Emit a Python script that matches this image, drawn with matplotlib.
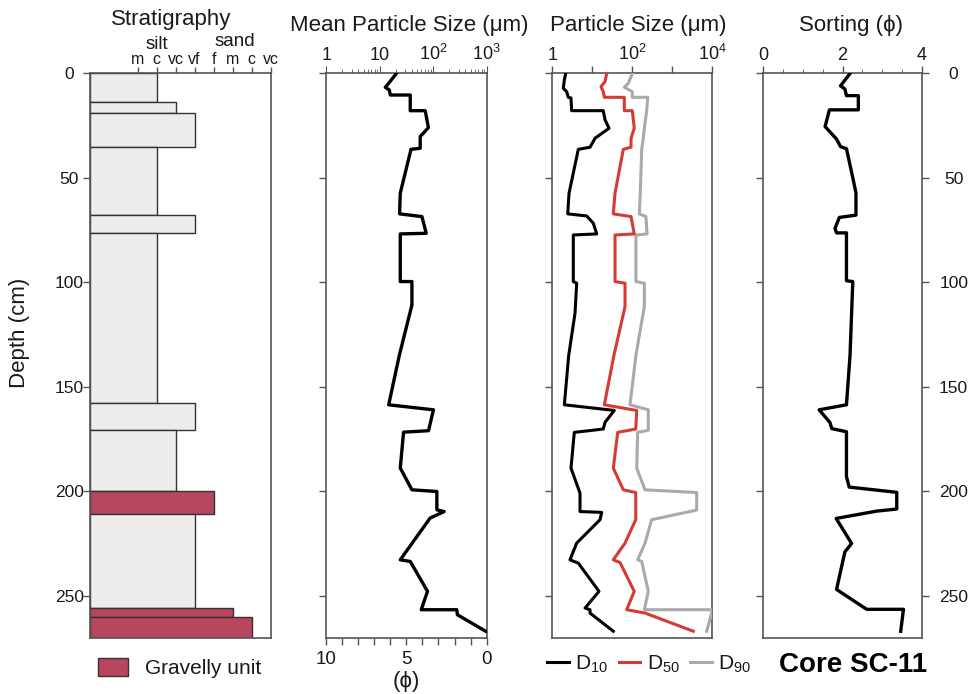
import numpy as np
import matplotlib
matplotlib.use('Agg')
import matplotlib.pyplot as plt
from matplotlib.patches import Patch
from matplotlib.lines import Line2D
from matplotlib.ticker import FixedLocator, LogLocator, NullFormatter, FuncFormatter

plt.rcParams['font.family'] = ['Liberation Sans', 'DejaVu Sans']
plt.rcParams['mathtext.fontset'] = 'custom'
plt.rcParams['mathtext.rm'] = 'Liberation Sans'
plt.rcParams['mathtext.it'] = 'Liberation Sans:italic'

# --- stratigraphic column (depth in cm, grain class index) ---
grain_labels = ['m', 'c', 'vc', 'vf', 'f', 'm', 'c', 'vc']
grain_pos = [1, 2, 3, 4, 5, 6, 7, 8]
strat_top = [0, 13.5, 18.8, 35.3, 67.7, 76.3, 157.8, 170.7, 200, 210.8, 255.9, 260.2]
strat_base = [13.5, 18.8, 35.3, 67.7, 76.3, 157.8, 170.7, 200, 210.8, 255.9, 260.2, 270]
strat_grain = [2, 3, 4, 2, 4, 2, 4, 3, 5, 4, 6, 7]
strat_gravel = [False, False, False, False, False, False, False, False, True, False, True, True]

# --- mean particle size (um) ---
mean_depth = [0, 4.7, 6.6, 7.9, 10.3, 10.3, 17.8, 17.8, 25.9, 30.2, 35.8, 36.3, 57.3, 67.2,
              68.5, 76.5, 76.8, 99.6, 99.6, 110.8, 135, 158.6, 161, 171, 171.7, 188.9, 199.3,
              200.1, 208.9, 209.7, 212.8, 232.8, 233.6, 247.9, 256.7, 256.7, 259.1, 267]
mean_um = [20.4, 14.7, 12.7, 15.1, 15.8, 37.2, 37.2, 70.8, 81.3, 57.1, 57.1, 38.4, 24.2, 23.5,
           61.5, 74, 24.2, 24.2, 40, 40, 23.2, 14.7, 101, 81.7, 27.9, 24.2, 40,
           117, 117, 160, 87.7, 24.2, 37.2, 78.2, 59.7, 276, 283, 955]

# --- percentiles (um) ---
d10_depth = [0, 3.1, 7.1, 8.7, 11.4, 11.7, 17.8, 17.8, 22.2, 26.2, 31, 35.3, 36.3, 57.3, 67.2,
             68.2, 71.7, 76.8, 77.3, 99.6, 100.4, 114.7, 135, 158.6, 161.3, 167, 170.2, 171.8,
             188.9, 200.9, 209.7, 210.1, 213.6, 224.8, 232.8, 234.4, 247.9, 255.9, 256.7, 258.3, 267]
d10_um = [2.16, 2.0, 1.88, 2.29, 2.51, 2.93, 3.05, 18.8, 20.8, 26.2, 11.7, 8.77, 4.47, 2.62, 2.43,
          7.24, 10.6, 12.9, 3.35, 3.35, 4.07, 3.70, 2.57, 2.0, 35.5, 20.8, 18.8, 3.55,
          2.93, 4.93, 4.93, 17.2, 15.6, 4.07, 2.77, 4.47, 14.7, 6.58, 8.77, 8.77, 33.5]

d50_depth = [0, 3.9, 6.3, 8.7, 11.4, 11.4, 17.8, 17.8, 26.2, 31, 35.3, 36.3, 57.3, 67.2, 68.5,
             76.8, 77.3, 99.6, 100.4, 111.6, 135, 158.6, 161.3, 170.2, 171.8, 188.9, 199.3,
             200.6, 213.6, 224.8, 232.8, 234.1, 247.9, 256.7, 258.3, 267]
d50_um = [22.9, 20.8, 16.5, 18.8, 20.0, 63.1, 63.1, 100, 112, 92.9, 92.9, 59.6, 37.0, 33.5, 92.9,
          112, 37.0, 37.0, 65.8, 65.8, 34.7, 20.0, 129, 122, 43.2, 33.5, 59.6,
          122, 122, 65.8, 33.5, 49.3, 112, 72.4, 208, 3350]

d90_depth = [0, 4.7, 6.6, 8.7, 11.4, 11.4, 17.8, 21.4, 26.2, 31, 36.3, 57.3, 67.2, 68.5, 76.8,
             77.3, 99.6, 100.4, 111.6, 135, 158.6, 161, 170.8, 171.8, 188.9, 199.3, 200.6, 209,
             213.6, 224.8, 232.8, 233.6, 247.9, 256.7, 256.7, 258.3, 267]
d90_um = [100, 79.4, 63.1, 100, 100, 243, 229, 216, 200, 188, 172, 158, 150, 219, 234,
          123, 123, 200, 200, 123, 87.7, 251, 251, 136, 129, 208, 4070, 4070,
          305, 208, 136, 172, 251, 200, 9660, 9660, 7240]

# --- sorting (phi) ---
sort_depth = [0, 3.2, 5.9, 7.4, 10.6, 10.6, 17.4, 17.4, 25.4, 31.4, 35, 36, 50.8, 57.2, 67.8,
              68.9, 74.2, 76.3, 76.3, 99.2, 99.6, 135, 158.6, 161, 167, 170, 171.5, 193, 198,
              200.5, 208.5, 209.5, 213, 225, 229, 247, 256.5, 256.5, 267]
sort_phi = [2.19, 2.06, 1.95, 2.06, 2.1, 2.4, 2.4, 1.67, 1.56, 1.85, 1.95, 2.1, 2.27, 2.34, 2.34,
            1.92, 1.81, 1.85, 2.1, 2.1, 2.26, 2.19, 2.1, 1.41, 1.68, 1.73, 2.1, 2.1, 2.17,
            3.37, 3.37, 2.86, 1.84, 2.23, 2.06, 1.85, 2.61, 3.54, 3.47]

W, H = 977, 694
fig = plt.figure(figsize=(W / 100, H / 100), dpi=100)

SPINE = '#555555'
TXT = '#1a1a1a'
FILL = '#ededeb'
GRAVEL = '#b8465f'
RED = '#d63a35'
GREY = '#aaaaaa'
DMAX = 270
UM_LO = 1000.0 / 1024  # phi = 10


def px_axes(x0, x1, y0=73.5, y1=637.5):
    return fig.add_axes([x0 / W, 1 - y1 / H, (x1 - x0) / W, (y1 - y0) / H])


def style(ax):
    for s in ax.spines.values():
        s.set_color(SPINE)
        s.set_linewidth(1.2)
    ax.tick_params(colors=SPINE, labelcolor=TXT, labelsize=12.5, width=1, length=5)
    ax.set_ylim(DMAX, 0)
    ax.set_yticks([0, 50, 100, 150, 200, 250])


def log_top(ax, lo, hi, labels):
    # log-scaled micron axis along the top edge
    ax.set_xscale('log')
    ax.set_xlim(lo, hi)
    ax.xaxis.tick_top()
    decades = [10.0 ** k for k in range(0, int(round(np.log10(hi))) + 1)]
    ax.xaxis.set_major_locator(FixedLocator(decades))
    ax.xaxis.set_major_formatter(FuncFormatter(lambda v, p: labels.get(int(round(v)), '')))
    ax.xaxis.set_minor_locator(LogLocator(base=10, subs=np.arange(2, 10)))
    ax.xaxis.set_minor_formatter(NullFormatter())
    ax.tick_params(axis='x', which='major', length=5, pad=2, colors=SPINE, labelcolor=TXT,
                   labelsize=13)
    ax.tick_params(axis='x', which='minor', length=3, color=SPINE)


# ---- Stratigraphy ----
ax1 = px_axes(90, 270.5)
style(ax1)
xmin = -1.5
ax1.set_xlim(xmin, 8)
for top, base, g, grav in zip(strat_top, strat_base, strat_grain, strat_gravel):
    ax1.barh((top + base) / 2, g - xmin, height=base - top, left=xmin,
             color=GRAVEL if grav else FILL, edgecolor='#333333', linewidth=1, zorder=2)
ax1.xaxis.tick_top()
ax1.set_xticks(grain_pos)
ax1.set_xticklabels(grain_labels)
ax1.tick_params(axis='x', labelsize=11.5, pad=1, length=4)
ax1.tick_params(axis='y', pad=10)
for lab in ax1.get_yticklabels():
    lab.set_horizontalalignment('center')
ax1.text(2, 1.052, 'silt', transform=ax1.get_xaxis_transform(), ha='center', va='center',
         fontsize=13.5, color=TXT)
ax1.text(6.1, 1.057, 'sand', transform=ax1.get_xaxis_transform(), ha='center', va='center',
         fontsize=13.5, color=TXT)
fig.text(20 / W, 1 - 333 / H, 'Depth (cm)', rotation=90, ha='center', va='center',
         fontsize=16, color=TXT)

# ---- Mean particle size ----
ax2 = px_axes(325.7, 486.7)
style(ax2)
ax2.set_xscale('log')
ax2.set_xlim(UM_LO, 1000)
ax2.set_yticklabels([])

# phi scale on the bottom edge: phi = log2(1000 / um)
phi_major = [10, 5, 0]
phi_minor = list(range(0, 11))
ax2.xaxis.set_major_locator(FixedLocator([1000.0 * 2.0 ** -p for p in phi_major]))
ax2.xaxis.set_major_formatter(FuncFormatter(
    lambda v, p: '%d' % round(np.log2(1000.0 / v))))
ax2.xaxis.set_minor_locator(FixedLocator([1000.0 * 2.0 ** -p for p in phi_minor]))
ax2.xaxis.set_minor_formatter(NullFormatter())
ax2.tick_params(axis='x', which='both', length=5, width=1, colors=SPINE, labelcolor=TXT,
                labelsize=13.5, pad=5)
ax2.set_xlabel('(ϕ)', fontsize=16, color=TXT, labelpad=2)

ax2t = ax2.twiny()
for s in ax2t.spines.values():
    s.set_visible(False)
log_top(ax2t, UM_LO, 1000, {1: '1', 10: '10', 100: '10$^2$', 1000: '10$^3$'})
ax2t.plot(mean_um, mean_depth, color='black', lw=2.4, zorder=3)
ax2t.set_ylim(DMAX, 0)

# ---- Particle size percentiles ----
ax3 = px_axes(552.3, 712.3)
style(ax3)
log_top(ax3, 1, 1e4, {1: '1', 100: '10$^2$', 10000: '10$^4$'})
ax3.plot(d90_um, d90_depth, color=GREY, lw=2.2, zorder=3)
ax3.plot(d50_um, d50_depth, color=RED, lw=2.2, zorder=4)
ax3.plot(d10_um, d10_depth, color='black', lw=2.2, zorder=5)
ax3.set_yticklabels([])

handles = [Line2D([], [], color='black', lw=2.2),
           Line2D([], [], color=RED, lw=2.2),
           Line2D([], [], color=GREY, lw=2.2)]
fig.legend(handles, ['D$_{10}$', 'D$_{50}$', 'D$_{90}$'], ncol=3, frameon=False,
           loc='center left', bbox_to_anchor=(547 / W, 1 - 664 / H), borderaxespad=0,
           borderpad=0, handlelength=1.05, handletextpad=0.3, columnspacing=0.5,
           fontsize=15, labelcolor=TXT)

# ---- Sorting ----
ax4 = px_axes(763.3, 921.7)
style(ax4)
ax4.set_xlim(0, 4)
ax4.plot(sort_phi, sort_depth, color='black', lw=2.4, zorder=3)
ax4.xaxis.tick_top()
ax4.set_xticks([0, 2, 4])
ax4.xaxis.set_minor_locator(FixedLocator(np.arange(0, 4.01, 0.5)))
ax4.tick_params(axis='x', which='major', length=5, pad=2, labelsize=13)
ax4.tick_params(axis='x', which='minor', length=3, color=SPINE)
ax4.tick_params(axis='y', left=True, right=True, labelleft=False, labelright=True, pad=18)
for lab in ax4.get_yticklabels():
    lab.set_horizontalalignment('center')

# ---- titles and notes ----
for xc, yc, title in [(171, 19, 'Stratigraphy'), (409, 25, 'Mean Particle Size (μm)'),
                      (638, 25, 'Particle Size (μm)'), (851, 25, 'Sorting (ϕ)')]:
    fig.text(xc / W, 1 - yc / H, title, ha='center', va='center', fontsize=16, color=TXT)

fig.legend([Patch(facecolor=GRAVEL, edgecolor='#333333', linewidth=1)], ['Gravelly unit'],
           frameon=False, loc='center left', bbox_to_anchor=(98 / W, 1 - 668 / H),
           borderaxespad=0, borderpad=0, handlelength=1.45, handleheight=0.95,
           handletextpad=0.8, fontsize=15, labelcolor=TXT)

fig.text(853 / W, 1 - 665 / H, 'Core SC-11', ha='center', va='center', fontsize=20,
         fontweight='bold', color='black')

fig.savefig('out.png', dpi=100)
